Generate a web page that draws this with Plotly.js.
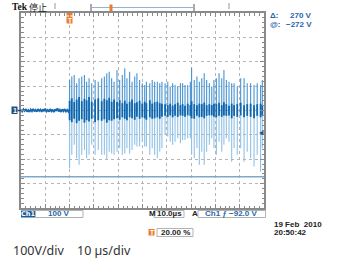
<!DOCTYPE html>
<html><head><meta charset="utf-8">
<script src="https://cdn.plot.ly/plotly-3.0.1.min.js"></script>
<style>html,body{margin:0;padding:0;background:#fff;}#chart{width:341px;height:263px;}</style>
</head><body><div id="chart"></div>
<script>
// ---- data (µs, V) ----
const spikeTimes = [0,0.9,1.9,2.9,3.9,5.0,6.1,7.0,8.0,9.1,10.5,11.8,13.2,14.3,15.3,16.3,17.3,18.3,
  19.5,20.6,21.7,22.7,23.6,24.7,25.7,26.8,27.7,28.8,29.9,30.9,31.6,33.0,34.0,35.0,36.1,37.1,38.0,
  39.3,40.4,41.4,42.4,43.4,44.5,45.6,46.5,47.5,48.6,49.7,50.2,51.3,52.4,53.4,54.4,55.4,56.4,57.5,
  58.5,59.4,60.4,61.5,62.6,63.5,64.5,65.6,66.7,67.7,69.0,70.4,71.8,73.1,74.5,75.9,77.2,78.6,79.3];
const spikeTops = [125,139,146,112,132,139,146,118,132,112,125,118,132,139,153,159,132,118,
  166,125,146,173,132,159,118,139,153,125,112,105,118,112,125,118,118,112,118,
  112,118,98,112,105,98,112,112,105,105,118,175,125,139,118,132,153,125,112,
  98,125,132,153,132,166,125,118,112,112,98,132,132,112,112,105,112,105,125];
const spikeBottoms = [-237,-182,-141,-196,-223,-182,-162,-196,-182,-141,-182,-162,-182,-182,-203,-169,-176,-182,
  -169,-155,-182,-176,-155,-176,-162,-141,-148,-148,-128,-148,-148,-182,-155,-182,-196,-169,-155,
  -100,-107,-128,-141,-128,-114,-134,-121,-121,-114,-114,-182,-196,-155,-223,-169,-223,-169,-141,
  -114,-155,-182,-128,-169,-141,-114,-128,-210,-155,-182,-155,-210,-169,-196,-230,-182,-251,-155];
const coreHi = [40,50,35,45,55,38,48,42,55,36,45,50,38,48,42,52,36,45,
  35,42,30,40,28,36,45,30,34,40,28,36,30,42,28,34,36,30,28,
  26,22,28,20,26,32,22,26,20,28,22,38,26,22,28,26,32,22,26,
  22,28,26,32,22,34,26,20,28,22,26,32,22,26,28,22,26,28,22];
const coreLo = [-40,-48,-34,-52,-42,-36,-50,-40,-45,-34,-48,-40,-42,-36,-50,-40,-42,-36,
  -32,-38,-28,-34,-40,-28,-32,-38,-26,-34,-28,-32,-38,-28,-34,-32,-28,-34,-26,
  -22,-26,-20,-28,-22,-26,-20,-22,-26,-20,-22,-32,-34,-22,-28,-26,-32,-22,-20,
  -20,-26,-28,-22,-26,-20,-22,-20,-32,-22,-26,-20,-28,-22,-26,-32,-22,-28,-20];
const preTimes = [-20,-19.5,-19,-18.5,-18,-17.5,-17,-16.5,-16,-15.5,-15,-14.5,-14,-13.5,-13,-12.5,-12,-11.5,-11,-10.5,
  -10,-9.5,-9,-8.5,-8,-7.5,-7,-6.5,-6,-5.5,-5,-4.5,-4,-3.5,-3,-2.5,-2,-1.5,-1,-0.5,0];
const preNoise = [3,-4,5,-2,6,-5,2,-6,4,-3,7,-4,3,-5,6,-2,4,-6,5,-3,8,-4,2,-5,6,-3,4,-7,5,-2,9,-4,3,-6,5,-3,6,-4,3,-5,4];
const cursorVolts = [-272];
const triggerLevel = [-92];
const xRange = [-20, 80];
const yRange = [-400, 400];
// ---- texts ----
const deltaText = "270 V", atText = "\u2212272 V";
const chScaleText = "100 V", timebaseText = "10.0\u00b5s", trigText = "Ch1 \u0192 \u221292.0 V";
const dateText = "19 Feb  2010", clockText = "20:50:42", trigPosText = "20.00 %";
const captionV = "100V/div", captionT = "10 \u00b5s/div";

function segs(t, a, b) {
  const x = [], y = [];
  t.forEach((ti, i) => { x.push(ti, ti, null); y.push(a === 0 ? 0 : a[i], b[i], null); });
  return {x, y};
}
const lower = segs(spikeTimes, 0, spikeBottoms);
const upper = segs(spikeTimes, 0, spikeTops);
const core = segs(spikeTimes, coreLo, coreHi);

const traces = [
  {x: lower.x, y: lower.y, mode: 'lines', line: {color: '#8fc1e7', width: 1.1}, connectgaps: false},
  {x: upper.x, y: upper.y, mode: 'lines', line: {color: '#4793d2', width: 1.1}, connectgaps: false},
  {x: core.x, y: core.y, mode: 'lines', line: {color: '#0d66b0', width: 1.8}, connectgaps: false},
  {x: preTimes, y: preNoise, mode: 'lines', line: {color: '#1569b0', width: 1.8}}
];

const L = 21, R = 264, T = 13, B = 208;
const px = x => (x - L) / (R - L);
const py = y => (B - y) / (B - T);
const BLUE = '#1f66ad', DARK = '#222', ORANGE = '#ee7a2c';
const f8 = c => ({family: 'Liberation Sans, Arial, sans-serif', size: 8, color: c, weight: 700});

function txt(text, x, y, font, anchor) {
  return {text, x: px(x), y: py(y), xref: 'paper', yref: 'paper', xanchor: anchor || 'left', yanchor: 'middle', showarrow: false, font};
}
function rect(x0, y0, x1, y1, fill, line) {
  return {type: 'rect', xref: 'paper', yref: 'paper', x0: px(x0), x1: px(x1), y0: py(y0), y1: py(y1),
    fillcolor: fill || 'rgba(0,0,0,0)', line: line || {width: 0}, layer: 'above'};
}
function seg(x0, y0, x1, y1, color, w) {
  return {type: 'line', xref: 'paper', yref: 'paper', x0: px(x0), x1: px(x1), y0: py(y0), y1: py(y1), line: {color, width: w || 1}, layer: 'above'};
}
const box = {color: '#b3b3b3', width: 1};

const shapes = [
  {type: 'line', xref: 'paper', yref: 'y', x0: 0, x1: 1, y0: cursorVolts[0], y1: cursorVolts[0], line: {color: '#7ea7cc', width: 1.5}},
  seg(55, 3, 55, 9, '#999'), seg(229, 3, 229, 9, '#999'),
  seg(91, 4, 91, 11, '#555'), seg(194, 4, 194, 11, '#555'),
  seg(91, 7.5, 194, 7.5, '#8fb4d6', 1.2),
  rect(109.5, 4.5, 112.5, 11, ORANGE),
  rect(66.5, 13, 72.5, 15.5, ORANGE),
  rect(66.5, 16.5, 72.5, 23.5, ORANGE),
  rect(11.5, 106.5, 17.5, 114, '#1d4f85'),
  seg(17.5, 110.5, 21, 110.5, '#1d4f85', 1.5),
  {type: 'path', xref: 'paper', yref: 'y', path: `M ${px(259)} ${triggerLevel[0]} L ${px(263.5)} ${triggerLevel[0] + 9} L ${px(263.5)} ${triggerLevel[0] - 9} Z`, fillcolor: '#1d4f85', line: {width: 0}},
  rect(21, 210.5, 35.5, 217.5, '#1d5b96'),
  rect(35.5, 210.5, 83, 217.5, null, box),
  rect(154, 210.5, 184, 217.5, null, box),
  rect(198, 210.5, 265.5, 217.5, null, box),
  rect(148.5, 229, 154.5, 235.5, ORANGE),
  rect(157, 228.5, 193, 236.5, null, box)
];

const annotations = [
  txt('<b>Tek</b>', 10, 7, {family: 'Liberation Serif, serif', size: 9.5, color: '#111'}),
  txt('停止', 27, 7, {family: 'Noto Sans CJK SC, Noto Sans CJK JP, sans-serif', size: 9, color: '#222'}),
  txt('\u0394:', 268, 16, f8(BLUE)),
  txt(deltaText, 314, 16, f8(BLUE), 'right'),
  txt('@:', 268, 24.5, f8(BLUE)),
  txt(atText, 314, 24.5, f8(BLUE), 'right'),
  txt('T', 69.5, 20.2, {family: 'Liberation Sans', size: 6.5, color: '#fff', weight: 700}, 'center'),
  txt('1', 14.5, 110.5, {family: 'Liberation Sans', size: 7, color: '#fff', weight: 700}, 'center'),
  txt('Ch1', 28.2, 214, {family: 'DejaVu Sans, sans-serif', size: 6.5, color: '#fff', weight: 700}, 'center'),
  txt(chScaleText, 46, 214, f8(BLUE)),
  txt('M', 146.5, 214, f8(DARK)),
  txt(timebaseText, 155, 214, f8(DARK)),
  txt('A', 190, 214, f8(DARK)),
  txt(trigText, 203, 214, f8(BLUE)),
  txt(dateText, 272, 224.5, f8(DARK)),
  txt(clockText, 272, 232.5, f8(DARK)),
  txt('T', 151.5, 232.3, {family: 'Liberation Sans', size: 6.5, color: '#fff', weight: 700}, 'center'),
  txt(trigPosText, 159, 232.5, f8(DARK)),
  txt(captionV, 11, 250, {family: 'Noto Sans, sans-serif', size: 12.5, color: '#333'}),
  txt(captionT, 75, 250, {family: 'Noto Sans, sans-serif', size: 12.5, color: '#333'})
];

const axisBase = {
  showgrid: true, gridcolor: '#b5b5b5', griddash: 'dot', gridwidth: 1, zeroline: false,
  showline: true, linecolor: '#8a8a8a', linewidth: 2, mirror: 'ticks', ticks: 'inside', ticklen: 4,
  tickcolor: '#8a8a8a', showticklabels: false, fixedrange: true
};
const layout = {
  width: 341, height: 263, margin: {l: L, r: 341 - R, t: T, b: 263 - B},
  paper_bgcolor: '#fff', plot_bgcolor: '#fff', showlegend: false, hovermode: false,
  xaxis: Object.assign({}, axisBase, {range: xRange, tick0: 0, dtick: 10,
    minor: {dtick: 2, ticks: 'inside', ticklen: 2.5, tickcolor: '#8a8a8a', showgrid: false}}),
  yaxis: Object.assign({}, axisBase, {range: yRange, tick0: 0, dtick: 100,
    minor: {dtick: 20, ticks: 'inside', ticklen: 2.5, tickcolor: '#8a8a8a', showgrid: false}}),
  shapes, annotations
};
Plotly.newPlot('chart', traces, layout, {staticPlot: true, displayModeBar: false});
</script></body></html>
